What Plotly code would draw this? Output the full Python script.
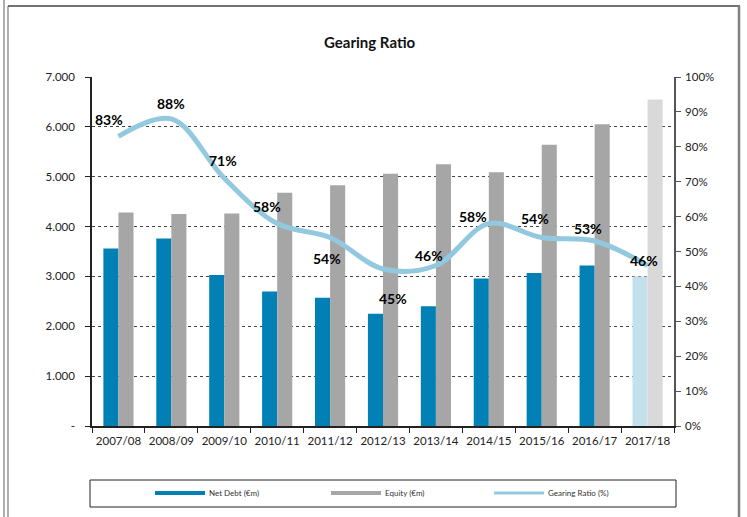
import plotly.graph_objects as go

categories = ["2007/08", "2008/09", "2009/10", "2010/11", "2011/12", "2012/13",
              "2013/14", "2014/15", "2015/16", "2016/17", "2017/18"]
net_debt = [3560, 3760, 3030, 2700, 2570, 2250, 2400, 2960, 3070, 3220, 3000]
equity = [4280, 4250, 4260, 4680, 4830, 5060, 5250, 5090, 5640, 6050, 6550]
gearing = [83, 88, 71, 58, 54, 45, 46, 58, 54, 53, 46]
left_ticks = [0, 1000, 2000, 3000, 4000, 5000, 6000, 7000]
left_tick_text = ["-", "1.000", "2.000", "3.000", "4.000", "5.000", "6.000", "7.000"]
right_ticks = [0, 10, 20, 30, 40, 50, 60, 70, 80, 90, 100]
right_tick_text = [f"{v}%" for v in right_ticks]

ND_COLOR = "#0080b4"
ND_LIGHT = "#c3e1ec"
EQ_COLOR = "#a6a6a6"
EQ_LIGHT = "#d9d9d9"
LINE_COLOR = "#92c9de"
FONT = "Lato"

nd_colors = [ND_COLOR] * (len(categories) - 1) + [ND_LIGHT]
eq_colors = [EQ_COLOR] * (len(categories) - 1) + [EQ_LIGHT]

fig = go.Figure()
fig.add_trace(go.Bar(x=categories, y=net_debt, name="Net Debt (€m)",
                     marker=dict(color=nd_colors, line=dict(width=0)), yaxis="y"))
fig.add_trace(go.Bar(x=categories, y=equity, name="Equity (€m)",
                     marker=dict(color=eq_colors, line=dict(width=0)), yaxis="y"))
fig.add_trace(go.Scatter(x=categories, y=gearing, name="Gearing Ratio (%)", yaxis="y2",
                         mode="lines", line=dict(color=LINE_COLOR, width=5, shape="spline",
                                                 smoothing=1.0)))

# label offsets (pixels) per point
label_dx = [-9, 0, -1, -10, -3, 10, -7, -16, -7, -7, -4]
label_dy = [17, 15, 18, 17, -21, -30, 10, 7, 19, 13, 5]
annotations = []
for i, (c, g) in enumerate(zip(categories, gearing)):
    annotations.append(dict(x=c, y=g, xref="x", yref="y2", text=f"<b>{g}%</b>",
                            showarrow=False, xshift=label_dx[i], yshift=label_dy[i],
                            font=dict(family=FONT, size=14, color="#000000")))

W, H = 747, 517
L, R, T, B = 92, 674, 77, 426


def px_x(p):
    return (p - L) / (R - L)


def px_y(p):
    return (B - p) / (B - T)


shapes = []
# outer frame
shapes.append(dict(type="line", xref="paper", yref="paper", x0=px_x(4), x1=px_x(4),
                   y0=px_y(0), y1=px_y(H + 5), line=dict(color="#777777", width=1.2)))
shapes.append(dict(type="line", xref="paper", yref="paper", x0=px_x(8), x1=px_x(8),
                   y0=px_y(6), y1=px_y(H + 5), line=dict(color="#777777", width=1.2)))
shapes.append(dict(type="line", xref="paper", yref="paper", x0=px_x(8), x1=px_x(740),
                   y0=px_y(6), y1=px_y(6), line=dict(color="#444444", width=1.5)))
shapes.append(dict(type="line", xref="paper", yref="paper", x0=px_x(739), x1=px_x(739),
                   y0=px_y(6), y1=px_y(H + 5), line=dict(color="#808080", width=2.5)))
# legend box
shapes.append(dict(type="rect", xref="paper", yref="paper", x0=px_x(90), x1=px_x(676),
                   y0=px_y(480), y1=px_y(507), line=dict(color="#222222", width=1),
                   fillcolor="white"))
legend_items = [("Net Debt (€m)", ND_COLOR, 4, 155), ("Equity (€m)", EQ_COLOR, 4, 331),
                ("Gearing Ratio (%)", LINE_COLOR, 3, 494)]
for name, col, lw, sx in legend_items:
    shapes.append(dict(type="line", xref="paper", yref="paper", x0=px_x(sx), x1=px_x(sx + 50),
                       y0=px_y(493), y1=px_y(493), line=dict(color=col, width=lw)))
    annotations.append(dict(x=px_x(sx + 52), y=px_y(493), xref="paper", yref="paper",
                            text=name, showarrow=False, xanchor="left", yanchor="middle",
                            font=dict(family=FONT, size=8, color="#333333")))

annotations.append(dict(x=px_x(370), y=px_y(42), xref="paper", yref="paper",
                        text="<b>Gearing Ratio</b>", showarrow=False, xanchor="center",
                        yanchor="middle", font=dict(family=FONT, size=15, color="#111111")))

fig.update_layout(
    width=W, height=H,
    margin=dict(l=L, r=W - R, t=T, b=H - B, pad=0),
    paper_bgcolor="white", plot_bgcolor="white",
    barmode="group", bargap=0.43, bargroupgap=0,
    showlegend=False,
    font=dict(family=FONT, size=11, color="#222222"),
    xaxis=dict(type="category", showline=True, linecolor="#222222", linewidth=1.5,
               ticks="outside", tickson="boundaries", ticklen=5, tickcolor="#222222",
               showgrid=False, tickangle=0, ticklabelstandoff=3,
               tickfont=dict(size=11.5, color="#222222")),
    yaxis=dict(range=[0, 7000], tickvals=left_ticks, ticktext=left_tick_text,
               showline=True, linecolor="#222222", linewidth=1.5, ticks="outside",
               ticklen=5, tickcolor="#222222", showgrid=True, gridcolor="#444444",
               griddash="dot", gridwidth=1, zeroline=False, ticklabelstandoff=8,
               tickfont=dict(size=11.5, color="#222222")),
    yaxis2=dict(range=[0, 100], tickvals=right_ticks, ticktext=right_tick_text,
                overlaying="y", side="right", showline=True, linecolor="#555555",
                linewidth=1.5, ticks="outside", ticklen=5, tickcolor="#555555",
                showgrid=False, zeroline=False, ticklabelstandoff=2,
                tickfont=dict(size=11.5, color="#222222")),
    shapes=shapes,
    annotations=annotations,
)

fig.write_html("out.html", config={"displayModeBar": False},
               post_script="document.body.style.margin='0';")
